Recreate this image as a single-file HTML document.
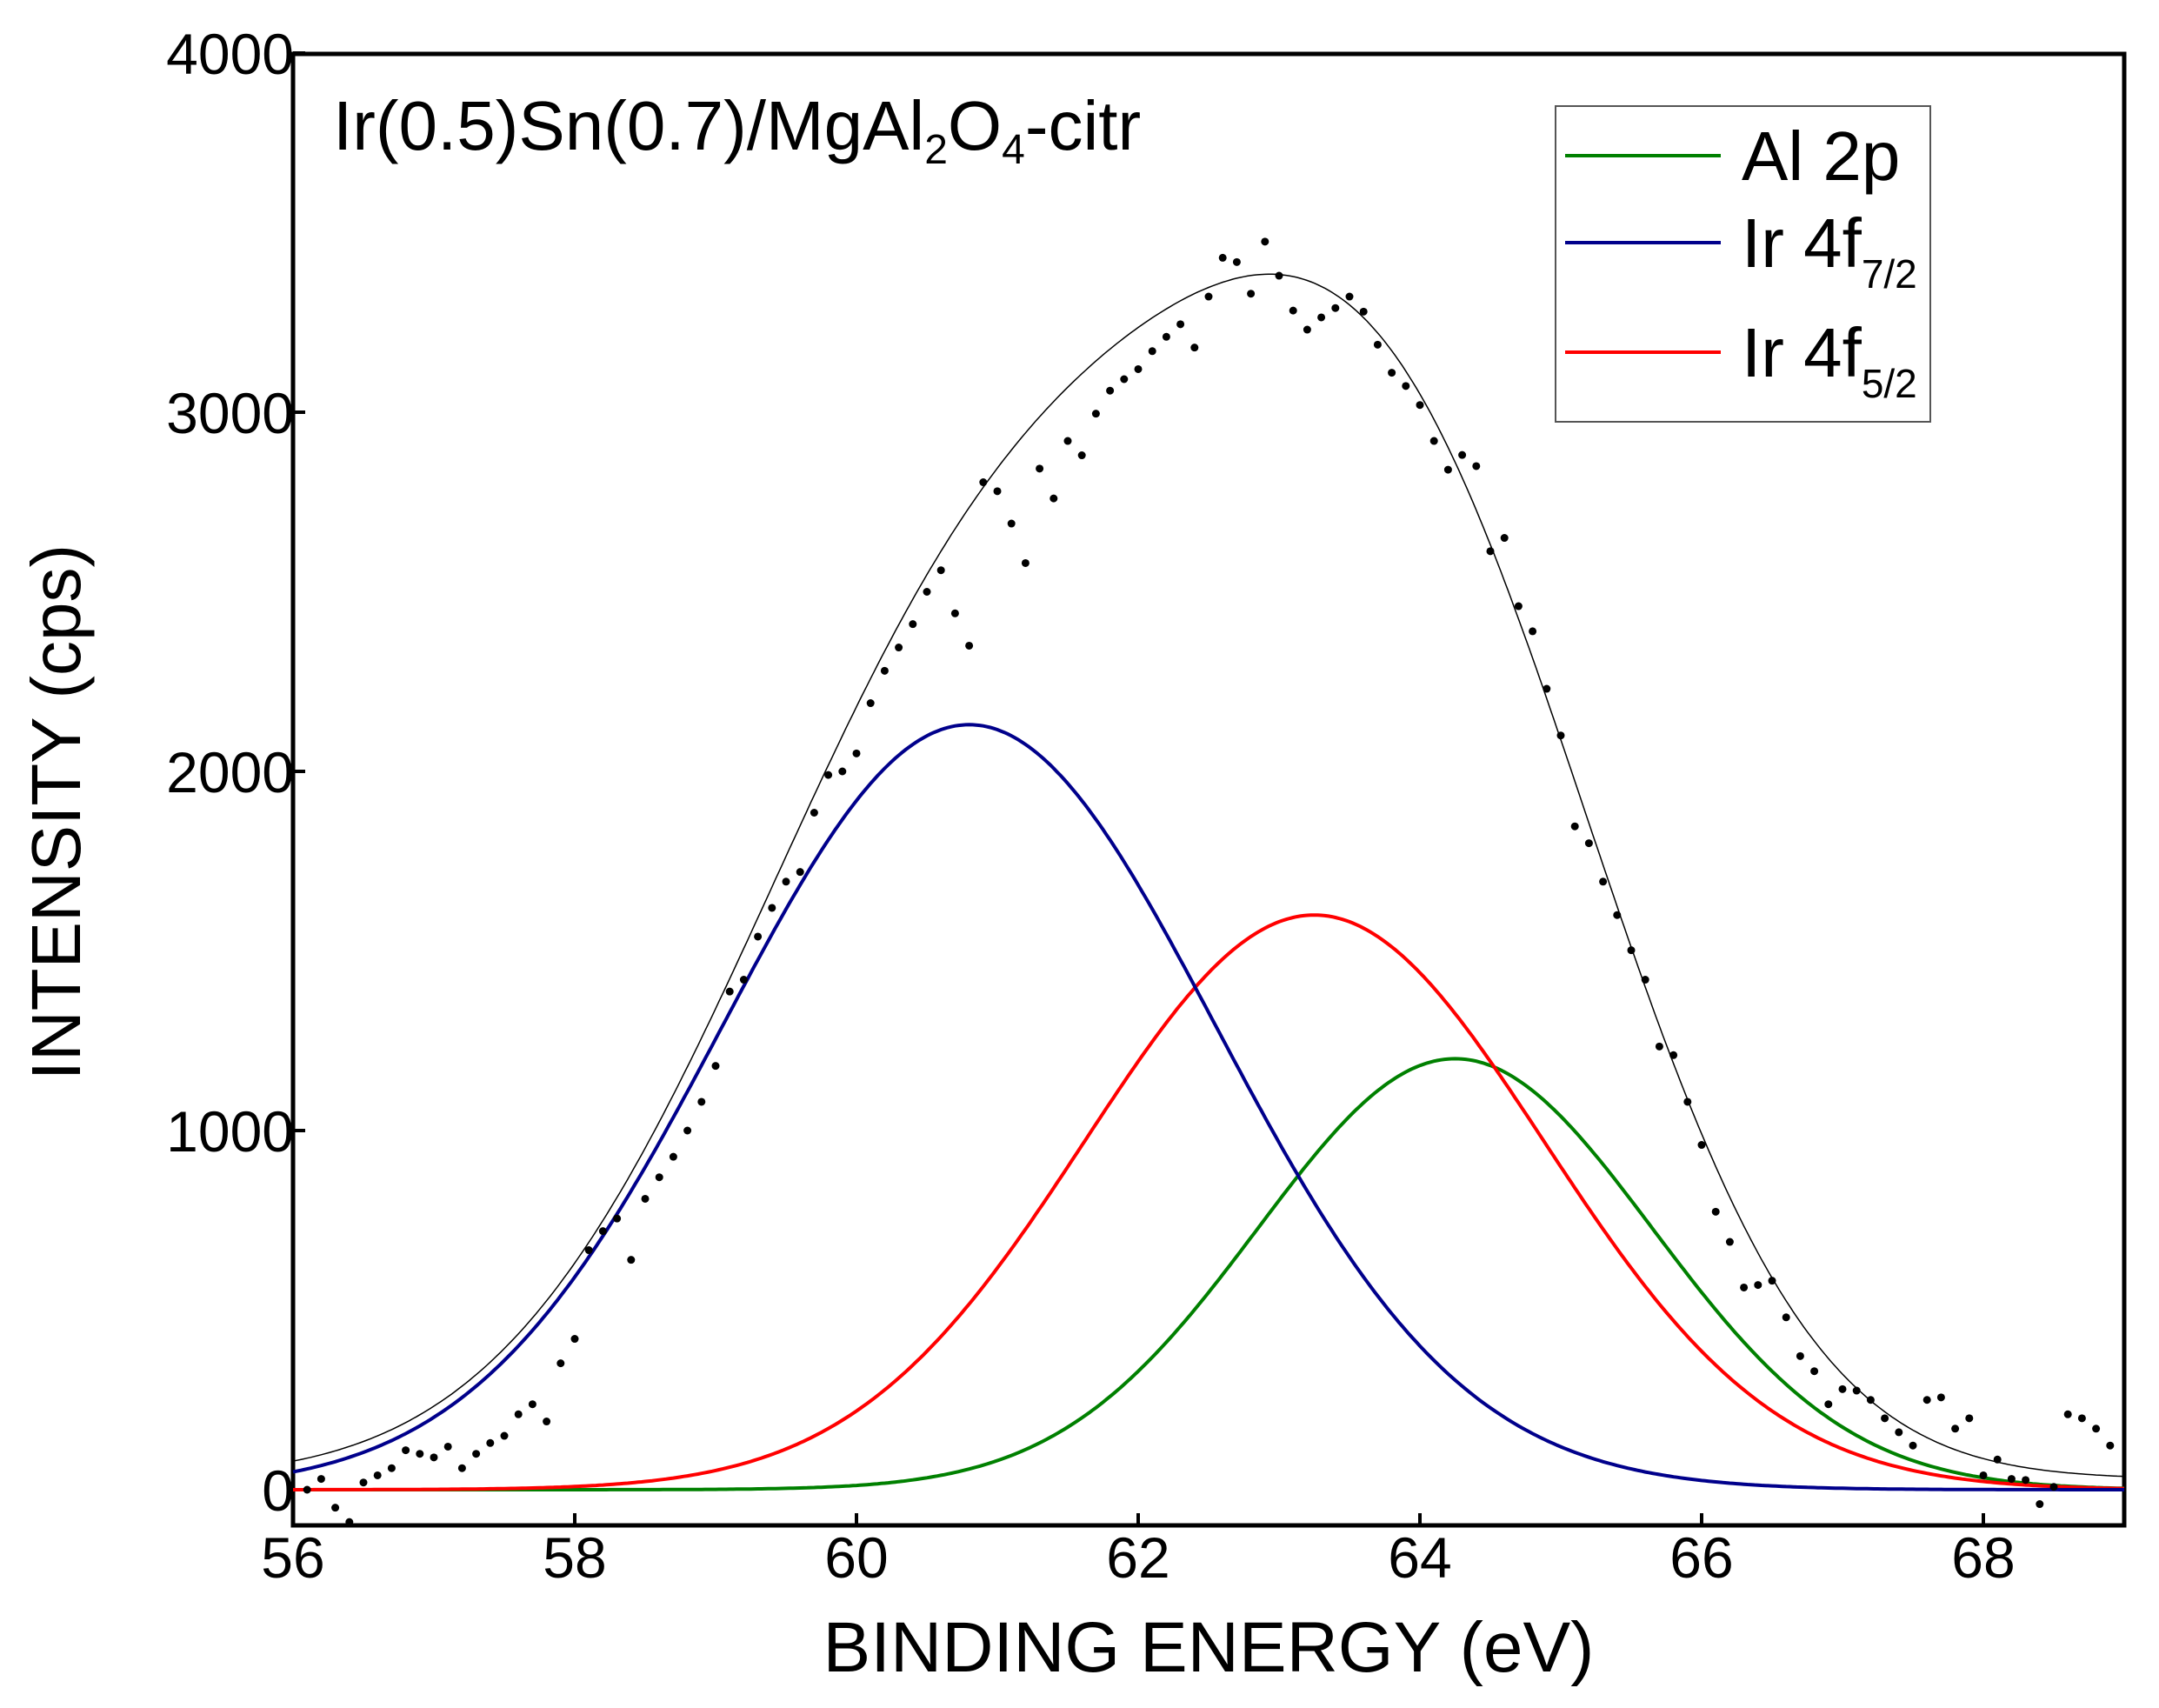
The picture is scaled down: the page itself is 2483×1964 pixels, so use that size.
<!DOCTYPE html>
<html><head><meta charset="utf-8"><style>
html,body{margin:0;padding:0;background:#fff;}
svg{display:block;font-family:"Liberation Sans",sans-serif;}
</style></head><body>
<svg id="chart" width="2483" height="1964" viewBox="0 0 2483 1964">
<rect x="337" y="62" width="2106" height="1692" fill="none" stroke="#000" stroke-width="5"/>
<g id="ticks"></g>
<g id="curves"></g>
<g id="dots"></g>
<text x="383" y="172" font-size="80">Ir(0.5)Sn(0.7)/MgAl<tspan font-size="48" dy="16">2</tspan><tspan dy="-16">O</tspan><tspan font-size="48" dy="16">4</tspan><tspan dy="-16">-citr</tspan></text>
<g>
<rect x="1789" y="122" width="431" height="363" fill="#fff" stroke="#555" stroke-width="2"/>
<line x1="1800" y1="179" x2="1979" y2="179" stroke="#008000" stroke-width="4"/>
<text x="2003" y="207" font-size="80">Al 2p</text>
<line x1="1800" y1="279" x2="1979" y2="279" stroke="#00008b" stroke-width="4"/>
<text x="2003" y="307" font-size="80">Ir 4f<tspan font-size="46" dy="24">7/2</tspan></text>
<line x1="1800" y1="405" x2="1979" y2="405" stroke="#ff0000" stroke-width="4"/>
<text x="2003" y="433" font-size="80">Ir 4f<tspan font-size="46" dy="24">5/2</tspan></text>
</g>
<text x="1390" y="1922" font-size="82" text-anchor="middle">BINDING ENERGY (eV)</text>
<text x="0" y="0" font-size="80" text-anchor="middle" transform="translate(92,934) rotate(-90)">INTENSITY (cps)</text>
</svg>
<script>
const xTicks=[56,58,60,62,64,66,68];
const yTicks=[0,1000,2000,3000,4000];
const pointX=[56.1,56.3,56.5,56.7,56.9,57.1,57.3,57.5,57.7,57.9,58.1,58.3,58.5,58.7,58.9,59.1,59.3,59.5,59.7,59.9,60.1,60.3,60.5,60.7,60.9,61.1,61.3,61.5,61.7,61.9,62.1,62.3,62.5,62.7,62.9,63.1,63.3,63.5,63.7,63.9,64.1,64.3,64.5,64.7,64.9,65.1,65.3,65.5,65.7,65.9,66.1,66.3,66.5,66.7,66.9,67.1,67.3,67.5,67.7,67.9,68.1,68.3,68.5,68.7,68.9,
56.2,56.4,56.6,56.8,57.0,57.2,57.4,57.6,57.8,58.0,58.2,58.4,58.6,58.8,59.0,59.2,59.4,59.6,59.8,60.0,60.2,60.4,60.6,60.8,61.0,61.2,61.4,61.6,61.8,62.0,62.2,62.4,62.6,62.8,63.0,63.2,63.4,63.6,63.8,64.0,64.2,64.4,64.6,64.8,65.0,65.2,65.4,65.6,65.8,66.0,66.2,66.4,66.6,66.8,67.0,67.2,67.4,67.6,67.8,68.0,68.2,68.4,68.6,68.8];
const pointY=[0,-50,20,60,100,120,100,150,238,352,667,755,810,927,1080,1387,1540,1693,1885,2000,2190,2345,2500,2440,2805,2690,2843,2920,2996,3092,3170,3245,3322,3418,3475,3283,3264,3322,3188,3073,2920,2881,2613,2460,2230,1847,1693,1502,1234,1080,774,563,582,372,238,276,199,123,257,199,84,27,8,199,123,
30,-90,40,110,90,60,130,210,190,420,720,640,870,1000,1180,1420,1620,1720,1990,2050,2280,2410,2560,2350,2780,2580,2760,2880,3060,3120,3210,3180,3430,3330,3380,3230,3290,3280,3110,3020,2840,2850,2650,2390,2100,1800,1600,1420,1210,960,690,570,480,330,280,250,160,250,170,40,30,-40,210,170];
const peakNames=['ir4f72','ir4f52','al2p'];
const peakCenters=[60.8,63.25,64.25];
const peakHeights=[2130,1600,1200];
const peakSigmas=[1.75,1.63,1.4];
const peakColors=['#00008b','#ff0000','#008000'];
const baseline=[30];

const NS='http://www.w3.org/2000/svg';
const X0=56,X1=69,Y0=-100,Y1=4000;
const L=337,R=2443,T=62,B=1754;
function sx(v){return L+(v-X0)/(X1-X0)*(R-L);}
function sy(v){return 1713-(v/1000)*413;}
function mk(t,a,p){const e=document.createElementNS(NS,t);for(const k in a)e.setAttribute(k,a[k]);p.appendChild(e);return e;}
const tg=document.getElementById('ticks');
xTicks.forEach(v=>{
 const l=mk('line',{x1:sx(v),x2:sx(v),y1:B,y2:B-14,stroke:'#000','stroke-width':4},tg);
 
 
 const t=mk('text',{x:sx(v),y:1814,'font-size':66,'text-anchor':'middle'},tg);t.textContent=v;
 
 
});
yTicks.forEach(v=>{
 const l=mk('line',{x1:L,x2:L+14,y1:sy(v),y2:sy(v),stroke:'#000','stroke-width':4},tg);
 
 
 const t=mk('text',{x:338,y:sy(v)+24,'font-size':66,'text-anchor':'end'},tg);t.textContent=v;
 
 
});
function g(i,x){const d=x-peakCenters[i];return peakHeights[i]*Math.exp(-d*d/(2*peakSigmas[i]*peakSigmas[i]));}
const cg=document.getElementById('curves');
const xs=[];for(let k=0;k<=520;k++)xs.push(X0+(X1-X0)*k/520);
let env='';
xs.forEach((x,k)=>{let s=baseline[0];for(let i=0;i<3;i++)s+=g(i,x);env+=(k?'L':'M')+sx(x).toFixed(1)+','+sy(s).toFixed(1);});
for(let i=2;i>=0;i--){
 let d='';xs.forEach((x,k)=>{d+=(k?'L':'M')+sx(x).toFixed(1)+','+sy(g(i,x)).toFixed(1);});
 const p=mk('path',{d:d,fill:'none',stroke:peakColors[i],'stroke-width':4},cg);
 
 
}
const ep=mk('path',{d:env,fill:'none',stroke:'#000','stroke-width':1.5},cg);


const dg=document.getElementById('dots');
pointX.forEach((x,i)=>{
 const c=mk('circle',{cx:sx(x),cy:sy(pointY[i]),r:4.5,fill:'#000'},dg);
 
 
});
</script>
</body></html>
